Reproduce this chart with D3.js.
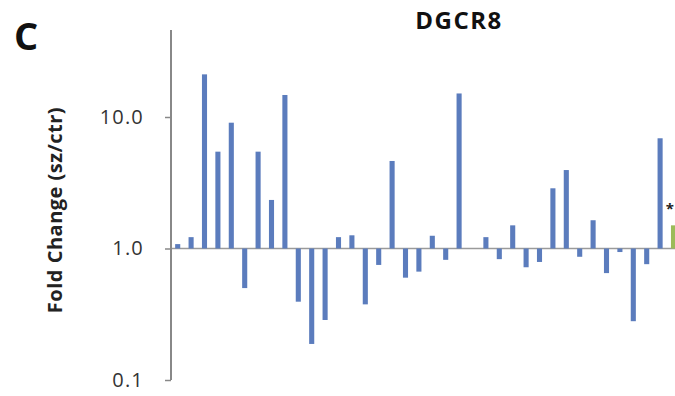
<!DOCTYPE html>
<html><head><meta charset="utf-8">
<script src="https://cdn.jsdelivr.net/npm/d3@7"></script>
<style>body{margin:0;background:#fff;overflow:hidden}</style>
</head><body>
<svg id="c" width="675" height="396"></svg>
<script>
const samples = d3.range(1, 39).map(i => "S" + i);
const foldChange = [1.08,1.22,21.1,5.45,9.05,0.50,5.45,2.34,14.7,0.394,0.188,0.286,1.22,1.26,0.376,0.75,4.63,0.60,0.667,1.25,0.82,15.1,1.0,1.22,0.83,1.50,0.72,0.79,2.87,3.95,0.865,1.64,0.65,0.94,0.28,0.76,6.89,1.50];
const highlighted = ["S38"];
const tickValues = [0.1, 1, 10];
const title = "DGCR8";
const panel = "C";
const yLabel = "Fold Change (sz/ctr)";

const svg = d3.select("#c");
const x0 = 171;
const y = d3.scaleLog().domain([0.1, 10]).range([380, 117]);
const x = d3.scaleBand().domain(samples).range([x0, x0 + samples.length * 13.4]).paddingInner(0.62).paddingOuter(0.31);

// baseline at 1.0
svg.append("line").attr("x1", x0).attr("x2", 675).attr("y1", y(1)).attr("y2", y(1))
  .attr("stroke", "#9a9a9a").attr("stroke-width", 1.5);

svg.selectAll("rect.bar").data(samples).join("rect")
  .attr("class", "bar")
  .attr("x", d => x(d))
  .attr("width", x.bandwidth())
  .attr("y", (d, i) => y(Math.max(foldChange[i], 1)))
  .attr("height", (d, i) => Math.abs(y(foldChange[i]) - y(1)))
  .attr("fill", d => highlighted.includes(d) ? "#9bbb59" : "#5b7cbd");

// star
highlighted.forEach(s => {
  const i = samples.indexOf(s);
  svg.append("text").attr("x", 674).attr("y", y(foldChange[i]) - 11).attr("text-anchor", "end")
    .attr("font-family", "Open Sans, sans-serif").attr("font-size", 15).attr("font-weight", "bold")
    .attr("fill", "#222").text("*");
});

// y axis
const yAxis = d3.axisLeft(y).tickValues(tickValues).tickFormat(d3.format(".1f")).tickSize(6).tickPadding(21);
const g = svg.append("g").attr("transform", `translate(${x0},0)`).call(yAxis);
g.select(".domain").remove();
g.selectAll(".tick line").attr("stroke", "#888").attr("stroke-width", 1.5);
g.selectAll(".tick text").attr("font-family", "Open Sans, sans-serif").attr("font-size", 20)
  .attr("letter-spacing", 1.2).attr("fill", "#333");
svg.append("line").attr("x1", x0).attr("x2", x0).attr("y1", 30).attr("y2", y(0.1))
  .attr("stroke", "#888").attr("stroke-width", 2);

// title
svg.append("text").attr("x", 459).attr("y", 29).attr("text-anchor", "middle")
  .attr("font-family", "Open Sans, sans-serif").attr("font-weight", "bold").attr("font-size", 24)
  .attr("letter-spacing", 1.5).attr("fill", "#111").text(title);
svg.append("text").attr("x", 14).attr("y", 50)
  .attr("font-family", "Open Sans, sans-serif").attr("font-weight", "bold").attr("font-size", 38)
  .attr("fill", "#111").text(panel);
svg.append("text").attr("transform", "translate(62,210) rotate(-90)").attr("text-anchor", "middle")
  .attr("font-family", "Open Sans, sans-serif").attr("font-weight", "bold").attr("font-size", 20)
  .attr("letter-spacing", 0.5).attr("fill", "#222").text(yLabel);
</script>
</body></html>
